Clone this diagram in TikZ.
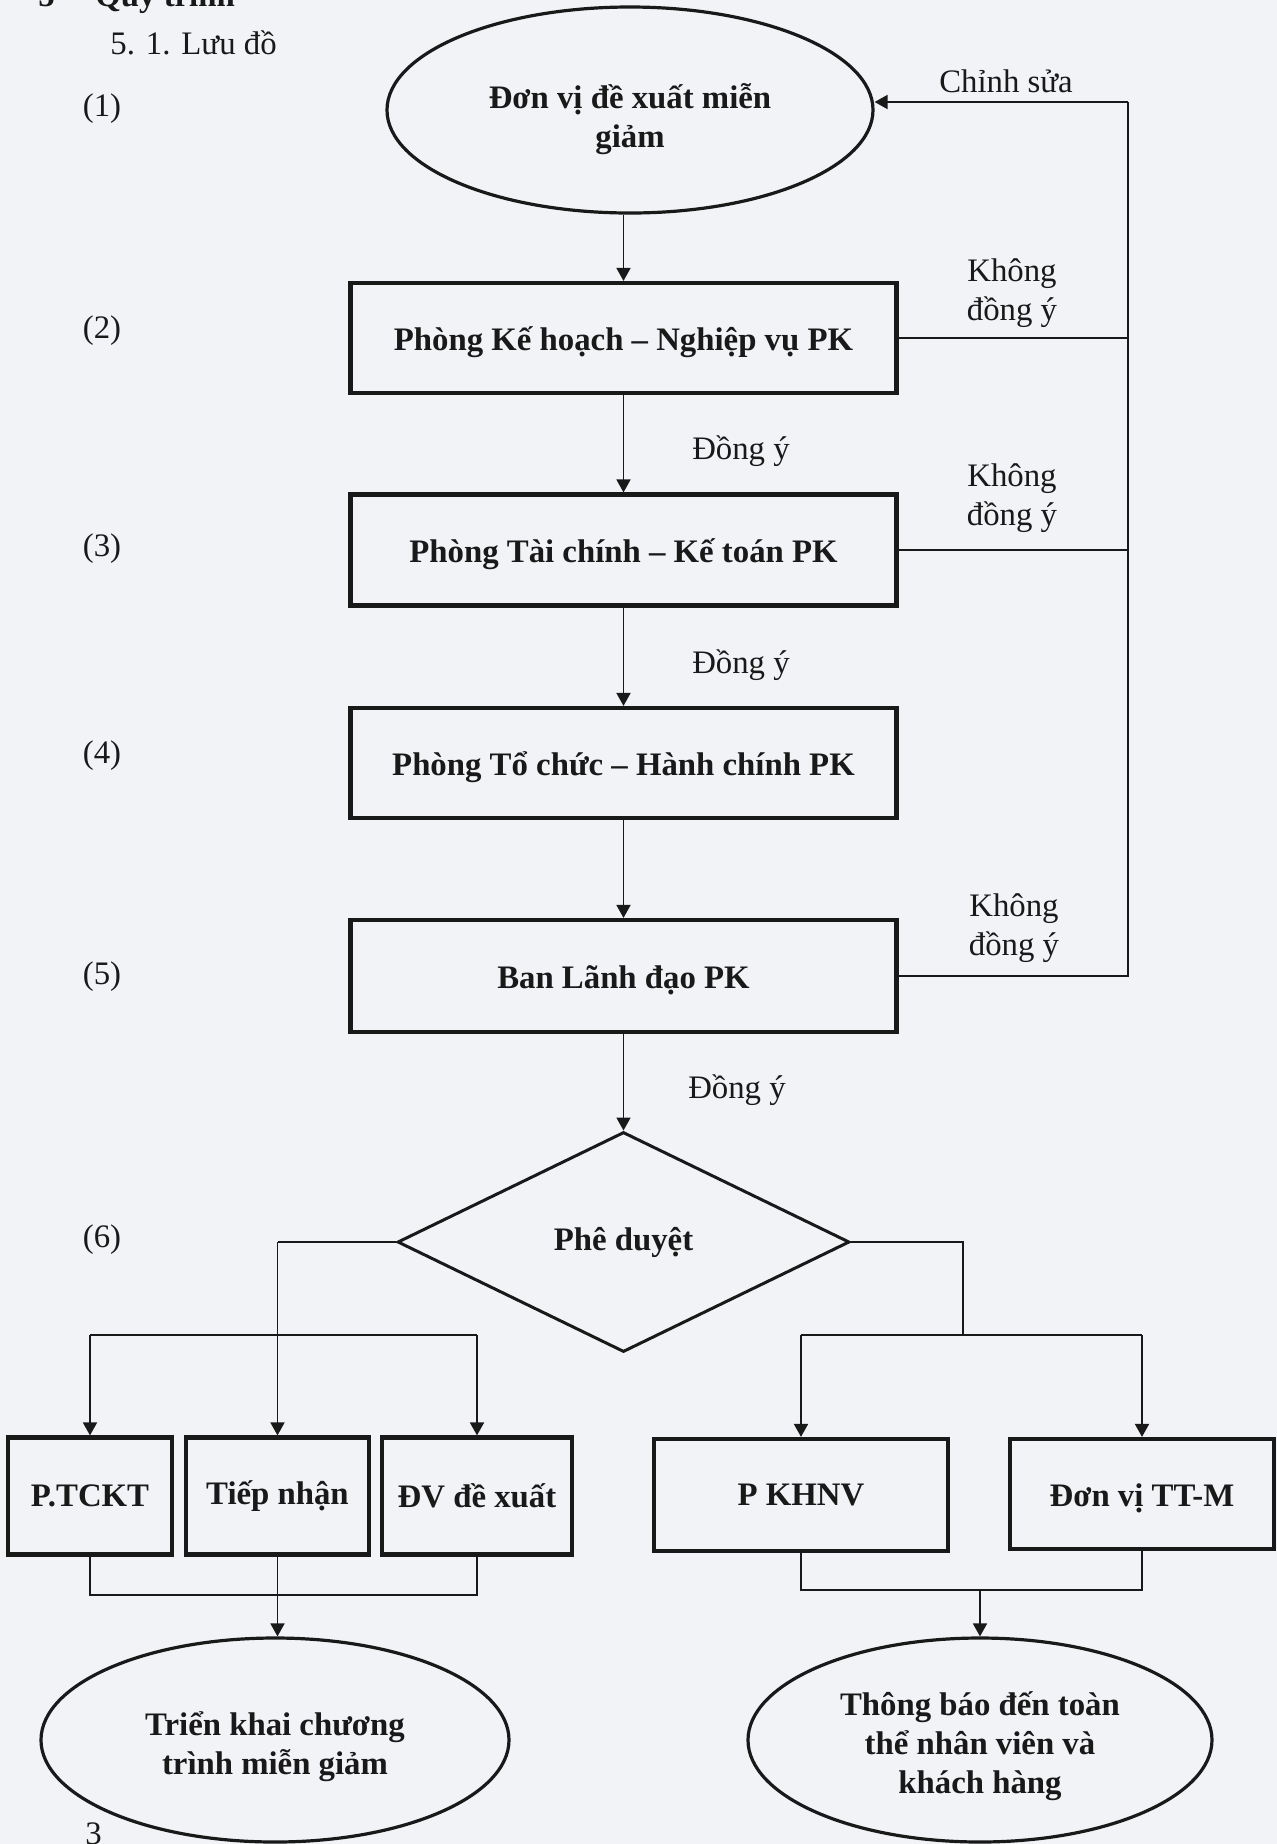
\documentclass[tikz,border=0pt]{standalone}
\usepackage{fontspec}
\setmainfont{Liberation Serif}
\usetikzlibrary{shapes.geometric,arrows.meta}
\definecolor{bgcol}{RGB}{242,243,246}
\definecolor{ink}{RGB}{25,25,25}
\newcommand\lowr[1]{\raisebox{-2pt}[\height][\depth]{#1}}
\begin{document}
\begin{tikzpicture}[x=0.5pt,y=-0.5pt,
  every node/.style={font=\fontsize{16.4}{19.5}\selectfont, text=ink, inner sep=0pt},
  conn/.style={draw=ink, line width=0.9pt},
  arr/.style={conn, -{Triangle[length=6.5pt,width=7pt]}},
  procbox/.style={draw=ink, line width=2.1pt, rectangle, font=\fontsize{16.4}{19.5}\selectfont\bfseries},
  term/.style={draw=ink, line width=1.6pt, ellipse},
  termtext/.style={align=center, font=\fontsize{16.4}{19.5}\selectfont\bfseries},
  decision/.style={draw=ink, line width=1.5pt, diamond, font=\fontsize{16.4}{19.5}\selectfont\bfseries},
  lbl/.style={align=center}]
\fill[bgcol] (0,0) rectangle (1277,1844);
\useasboundingbox (0,0) rectangle (1277,1844);

% headings
\node[anchor=base west, font=\fontsize{16.4}{19.5}\selectfont\bfseries] (h5) at (38,6) {5};
\node[anchor=base west, font=\fontsize{16.4}{19.5}\selectfont\bfseries] (hq) at (95,6) {Quy trình};
\node[anchor=base west] (h51) at (110,54) {5. 1. Lưu đồ};
\node[anchor=base west] (pg) at (85,1844) {3};

% step numbers
\node (n1) at (102,109) {(1)};
\node (n2) at (102,331) {(2)};
\node (n3) at (102,549) {(3)};
\node (n4) at (102,756) {(4)};
\node (n5) at (102,977) {(5)};
\node (n6) at (102,1240) {(6)};

% main nodes
\node[term, minimum width=243pt, minimum height=103pt] (top) at (630,110) {};
\node[termtext] (toptxt) at (630,119) {Đơn vị đề xuất miễn\\giảm};
\node[procbox, minimum width=273pt, minimum height=55pt] (b2) at (623.5,338) {\lowr{Phòng Kế hoạch – Nghiệp vụ PK}};
\node[procbox, minimum width=273pt, minimum height=55.5pt] (b3) at (623.5,550) {\lowr{Phòng Tài chính – Kế toán PK}};
\node[procbox, minimum width=273pt, minimum height=55pt] (b4) at (623.5,763) {\lowr{Phòng Tổ chức – Hành chính PK}};
\node[procbox, minimum width=273pt, minimum height=56pt] (b5) at (623.5,976) {\lowr{Ban Lãnh đạo PK}};
\node[decision, minimum width=226pt, minimum height=110pt] (dia) at (623.5,1242) {Phê duyệt};

\node[procbox, minimum width=82pt, minimum height=58.5pt] (ptckt) at (90,1496) {P.TCKT};
\node[procbox, minimum width=91.5pt, minimum height=58.5pt] (tiep) at (277.5,1496) {Tiếp nhận};
\node[procbox, minimum width=95pt, minimum height=58.5pt] (dvdx) at (477,1496) {ĐV đề xuất};
\node[procbox, minimum width=147pt, minimum height=56pt] (pkhnv) at (801,1495) {P KHNV};
\node[procbox, minimum width=132pt, minimum height=55pt] (ttm) at (1142,1494) {\lowr{Đơn vị TT-M}};

\node[term, minimum width=234pt, minimum height=102pt] (trien) at (275,1740) {};
\node[termtext] (trientxt) at (275,1747) {Triển khai chương\\trình miễn giảm};
\node[term, minimum width=232pt, minimum height=102pt] (thong) at (980,1740) {};
\node[termtext] (thongtxt) at (980,1746) {Thông báo đến toàn\\thể nhân viên và\\khách hàng};

% labels
\node[lbl] (lchs) at (1006,81) {Chỉnh sửa};
\node[lbl] (lk1) at (1012,293) {Không\\đồng ý};
\node[lbl] (lk2) at (1012,498) {Không\\đồng ý};
\node[lbl] (lk3) at (1014,928) {Không\\đồng ý};
\node[lbl] (ld1) at (741,451) {Đồng ý};
\node[lbl] (ld2) at (741,665) {Đồng ý};
\node[lbl] (ld3) at (737,1090) {Đồng ý};

% main flow
\draw[arr] (b2.north |- top.south) -- (b2.north);
\draw[arr] (b2.south) -- (b3.north);
\draw[arr] (b3.south) -- (b4.north);
\draw[arr] (b4.south) -- (b5.north);
\draw[arr] (b5.south) -- (dia.north);

% feedback loop
\coordinate (fbtop) at (1128,102);
\coordinate (fbbot) at (1128,976);
\draw[conn] (b2.east) -- (b2.east -| fbtop);
\draw[conn] (b3.east) -- (b3.east -| fbtop);
\draw[conn] (b5.east) -- (b5.east -| fbbot) -- (fbtop);
\draw[arr] (fbtop) -- (fbtop -| top.east);

% left branch
\coordinate (lb) at (277.5,1242);
\coordinate (lhy) at (0,1335);
\draw[conn] (dia.west) -- (lb);
\draw[arr] (lb) -- (tiep.north);
\draw[conn] (ptckt.north |- lhy) -- (dvdx.north |- lhy);
\draw[arr] (ptckt.north |- lhy) -- (ptckt.north);
\draw[arr] (dvdx.north |- lhy) -- (dvdx.north);

% right branch
\coordinate (rb) at (963,1242);
\coordinate (rhy) at (0,1335);
\draw[conn] (dia.east) -- (rb) -- (rb |- rhy);
\draw[conn] (pkhnv.north |- rhy) -- (ttm.north |- rhy);
\draw[arr] (pkhnv.north |- rhy) -- (pkhnv.north);
\draw[arr] (ttm.north |- rhy) -- (ttm.north);

% bottom joins
\coordinate (lby) at (0,1595);
\draw[conn] (ptckt.south) -- (ptckt.south |- lby) -- (dvdx.south |- lby) -- (dvdx.south);
\draw[arr] (tiep.south) -- (tiep.south |- trien.north);
\coordinate (rby) at (0,1590);
\draw[conn] (pkhnv.south) -- (pkhnv.south |- rby) -- (ttm.south |- rby) -- (ttm.south);
\draw[arr] (thong.north |- rby) -- (thong.north);
\end{tikzpicture}
\end{document}
